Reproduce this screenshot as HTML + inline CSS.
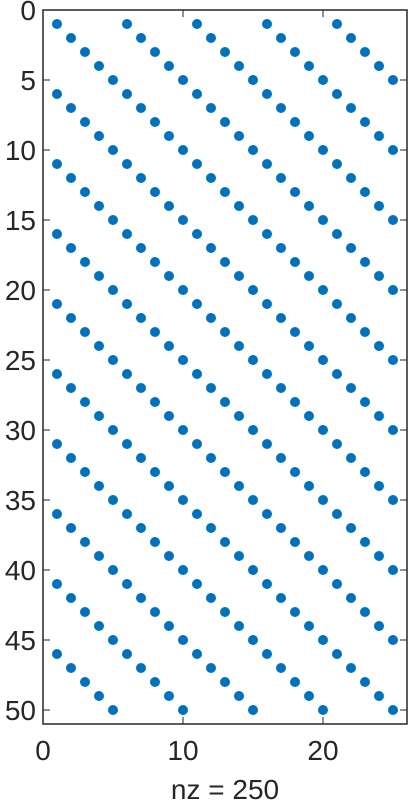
<!DOCTYPE html>
<html><head><meta charset="utf-8"><style>body{margin:0;background:#fff}svg{display:block}text{font-family:"Liberation Sans",sans-serif;fill:#262626}</style></head>
<body>
<svg id="c" width="408" height="803" xmlns="http://www.w3.org/2000/svg"></svg>
<script>
const nRows = 50;
const nCols = 25;
const period = 5;
const xTicks = [0, 10, 20];
const yTicks = [0,5,10,15,20,25,30,35,40,45,50];
const xLabelText = "nz = 250";
const L=43,T=10,R=407,B=724;
const xs=v=>L+(v)*(R-L)/(nCols+1);
const ys=v=>T+(v)*(B-T)/(nRows+1);
const svg=document.getElementById('c');
const NS='http://www.w3.org/2000/svg';
function mk(t,a){const e=document.createElementNS(NS,t);for(const k in a)e.setAttribute(k,a[k]);svg.appendChild(e);return e;}
const g=document.createElementNS(NS,'g');svg.appendChild(g);


for(let i=1;i<=nRows;i++)for(let j=1;j<=nCols;j++){if((i-j)%period===0){const c=document.createElementNS(NS,'circle');c.setAttribute('cx',xs(j));c.setAttribute('cy',ys(i));c.setAttribute('r',5);c.setAttribute('fill','#0072BD');


g.appendChild(c);}}
const box=mk('rect',{x:L,y:T,width:R-L,height:B-T,fill:'none',stroke:'#262626','stroke-width':1.5});


xTicks.forEach(v=>{const x=xs(v);mk('line',{x1:x,x2:x,y1:B,y2:B-7,stroke:'#262626','stroke-width':1});mk('line',{x1:x,x2:x,y1:T,y2:T+7,stroke:'#262626','stroke-width':1});
const t=mk('text',{x:x,y:B+36,'font-size':28,'text-anchor':'middle'});t.textContent=v;

});
yTicks.forEach(v=>{const y=ys(v);mk('line',{x1:L,x2:L+7,y1:y,y2:y,stroke:'#262626','stroke-width':1});mk('line',{x1:R,x2:R-7,y1:y,y2:y,stroke:'#262626','stroke-width':1});
const t=mk('text',{x:L-7,y:y+10,'font-size':28,'text-anchor':'end'});t.textContent=v;

});
const xl=mk('text',{x:(L+R)/2,y:B+75,'font-size':28,'text-anchor':'middle'});xl.textContent=xLabelText;


</script>
</body></html>
